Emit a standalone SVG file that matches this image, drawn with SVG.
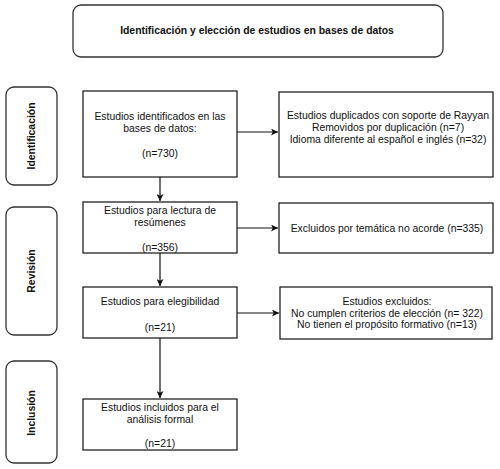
<svg xmlns="http://www.w3.org/2000/svg" width="500" height="469" viewBox="0 0 500 469">
<defs>
<marker id="arr" viewBox="0 0 8 8" refX="8" refY="4" markerWidth="7" markerHeight="7" markerUnits="userSpaceOnUse" orient="auto">
<path d="M0,0 L8,4 L0,8 L2,4 Z" fill="#111"/>
</marker>
<style>
text{font-family:"Liberation Sans",Arial,sans-serif;font-size:10.4px;fill:#111;text-anchor:middle}
.b{font-weight:bold}
.box{fill:#fff;stroke:#222;stroke-width:1.3}
.rbox{fill:#fff;stroke:#333;stroke-width:1.3}
.con{fill:none;stroke:#111;stroke-width:1.2}
</style>
</defs>
<rect width="500" height="469" fill="#fff"/>
<g id="title">
<rect class="rbox" x="73" y="5" width="370" height="52" rx="8"/>
<text class="b" x="257" y="34">Identificación y elección de estudios en bases de datos</text>
</g>
<g id="stage-identificacion">
<rect class="rbox" x="6" y="87" width="51" height="98" rx="8"/>
<text class="b" transform="translate(35,136) rotate(-90)">Identificación</text>
</g>
<g id="stage-revision">
<rect class="rbox" x="6" y="207" width="51" height="128" rx="8"/>
<text class="b" transform="translate(35,271) rotate(-90)">Revisión</text>
</g>
<g id="stage-inclusion">
<rect class="rbox" x="6" y="361" width="51" height="102" rx="8"/>
<text class="b" transform="translate(35,413) rotate(-90)">Inclusión</text>
</g>
<g id="n-identificados">
<rect class="box" x="83" y="91" width="154" height="86"/>
<text x="160" y="120">Estudios identificados en las</text>
<text x="160" y="132">bases de datos:</text>
<text x="160" y="157">(n=730)</text>
</g>
<g id="n-duplicados">
<rect class="box" x="279" y="92" width="214" height="85"/>
<text x="388" y="119">Estudios duplicados con soporte de Rayyan</text>
<text x="388" y="131">Removidos por duplicación (n=7)</text>
<text x="388" y="143">Idioma diferente al español e inglés (n=32)</text>
</g>
<g id="n-resumenes">
<rect class="box" x="83" y="202" width="154" height="51"/>
<text x="160" y="214">Estudios para lectura de</text>
<text x="160" y="226">resúmenes</text>
<text x="160" y="251">(n=356)</text>
</g>
<g id="n-tematica">
<rect class="box" x="279" y="203" width="214" height="50"/>
<text x="387" y="232">Excluidos por temática no acorde (n=335)</text>
</g>
<g id="n-elegibilidad">
<rect class="box" x="83" y="287" width="154" height="51"/>
<text x="160" y="305">Estudios para elegibilidad</text>
<text x="160" y="331">(n=21)</text>
</g>
<g id="n-excluidos">
<rect class="box" x="280" y="287" width="212" height="52"/>
<text x="387" y="305">Estudios excluidos:</text>
<text x="387" y="317">No cumplen criterios de elección (n= 322)</text>
<text x="387" y="328">No tienen el propósito formativo (n=13)</text>
</g>
<g id="n-incluidos">
<rect class="box" x="83" y="399" width="154" height="51"/>
<text x="160" y="411">Estudios incluidos para el</text>
<text x="160" y="423">análisis formal</text>
<text x="160" y="447">(n=21)</text>
</g>
<g id="connectors">
<line class="con" x1="237" y1="132" x2="278" y2="132" marker-end="url(#arr)"/>
<line class="con" x1="160" y1="177" x2="160" y2="201" marker-end="url(#arr)"/>
<line class="con" x1="237" y1="228" x2="278" y2="228" marker-end="url(#arr)"/>
<line class="con" x1="160" y1="253" x2="160" y2="286" marker-end="url(#arr)"/>
<line class="con" x1="237" y1="313" x2="279" y2="313" marker-end="url(#arr)"/>
<line class="con" x1="160" y1="338" x2="160" y2="398" marker-end="url(#arr)"/>
</g>
</svg>
